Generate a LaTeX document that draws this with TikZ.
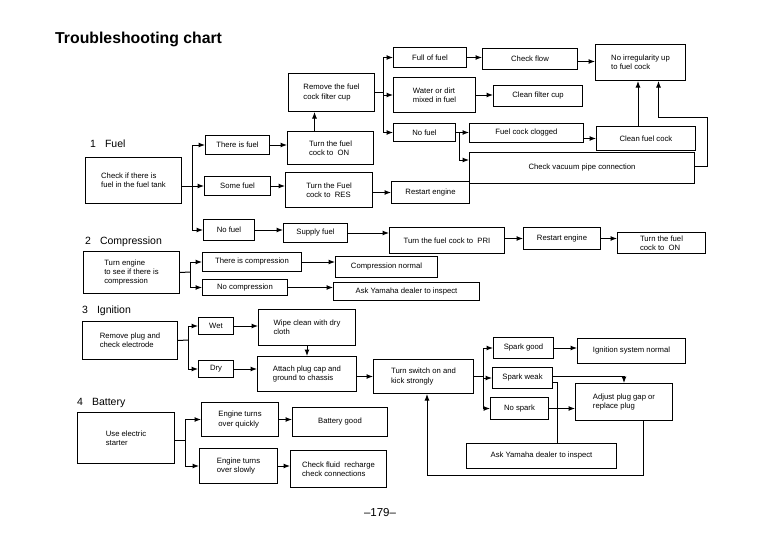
\documentclass[tikz,border=0pt]{standalone}
\usepackage{fontspec}
\setmainfont{Liberation Sans}
\usetikzlibrary{arrows.meta,calc}
\begin{document}
\begin{tikzpicture}[x=1pt,y=-1pt,
  box/.style={draw, line width=1pt, inner sep=1.5pt, align=left,
    font=\fontsize{7.7}{9.2}\selectfont, anchor=north west},
  arr/.style={line width=1pt, -{Latex[length=6.5pt,width=5pt]}},
  ln/.style={line width=1pt},
  sect/.style={font=\fontsize{10.5}{12}\selectfont, anchor=base west, inner sep=0pt},
  titlestyle/.style={font=\fontsize{15.8}{18}\selectfont\bfseries, anchor=base west, inner sep=0pt}]
\useasboundingbox (0,0) rectangle (770,554);

% ---------- labels ----------
\node[titlestyle] (title) at (55,43) {Troubleshooting chart};
\node[sect] (s1) at (90,147) {1\hspace{9pt}Fuel};
\node[sect] (s2) at (85,244) {2\hspace{9pt}Compression};
\node[sect] (s3) at (82,313) {3\hspace{9pt}Ignition};
\node[sect] (s4) at (77,405) {4\hspace{9pt}Battery};
\node[font=\fontsize{11.5}{13}\selectfont, anchor=base, inner sep=0pt] (page) at (380,516) {–179–};

% ---------- 1 Fuel ----------
\node[box, minimum width=96pt, minimum height=46pt] (check) at (85,157) {Check if there is\\fuel in the fuel tank};
\node[box, minimum width=64pt, minimum height=19pt] (thereis) at (205,135) {There is fuel};
\node[box, minimum width=66pt, minimum height=19pt] (somefuel) at (204,176) {Some fuel};
\node[box, minimum width=51pt, minimum height=21pt] (nofuelA) at (203,219) {No fuel};
\node[box, minimum width=86pt, minimum height=33pt] (turnon) at (287,131) {Turn the fuel\\cock to\ \ ON};
\node[box, minimum width=86pt, minimum height=38pt] (remove) at (288,73) {Remove the fuel\\cock filter cup};
\node[box, minimum width=87pt, minimum height=35pt] (turnres) at (285,172) {Turn the Fuel\\cock to\ \ RES};
\node[box, minimum width=78pt, minimum height=22pt] (restartA) at (391,181) {Restart engine};
\node[box, minimum width=73pt, minimum height=20pt] (fullfuel) at (393,47) {Full of fuel};
\node[box, minimum width=82pt, minimum height=35pt] (water) at (393,77) {Water or dirt\\mixed in fuel};
\node[box, minimum width=62pt, minimum height=18pt] (nofuelB) at (393,123) {No fuel};
\node[box, minimum width=95pt, minimum height=21pt] (checkflow) at (482,48) {Check flow};
\node[box, minimum width=90pt, minimum height=36pt] (noirreg) at (595,44) {No irregularity up\\to fuel cock};
\node[box, minimum width=89pt, minimum height=21pt] (cleancup) at (493,85) {Clean filter cup};
\node[box, minimum width=114pt, minimum height=19pt] (clogged) at (469,123) {Fuel cock clogged};
\node[box, minimum width=99pt, minimum height=24pt] (cleancock) at (596,126) {Clean fuel cock};
\node[box, minimum width=225pt, minimum height=31pt] (vacuum) at (469,152) {Check vacuum pipe connection};
\node[box, minimum width=64pt, minimum height=19pt] (supply) at (283,223) {Supply fuel};
\node[box, minimum width=115pt, minimum height=26pt] (pri) at (389,227) {Turn the fuel cock to\ \ PRI};
\node[box, minimum width=77pt, minimum height=22pt] (restartB) at (523,227) {Restart engine};
\node[box, minimum width=88pt, minimum height=21pt] (turnonB) at (617,232) {Turn the fuel\\cock to\ \ ON};

\coordinate (j1) at (192,185.5);
\draw[arr] (check.east |- somefuel.west) -- (somefuel.west);
\draw[arr] (j1) |- (thereis.west);
\draw[arr] (j1) |- (nofuelA.west);
\draw[arr] (thereis.east) -- (thereis.east -| turnon.west);
\draw[arr] ([xshift=-16pt]turnon.north) -- ([xshift=-16pt]turnon.north |- remove.south);
\draw[arr] (somefuel.east) -- (somefuel.east -| turnres.west);
\draw[arr] (turnres.east |- restartA.west) -- (restartA.west);

\coordinate (j2) at (383,92);
\draw[ln] (remove.east |- j2) -- (j2);
\draw[arr] (j2) |- (fullfuel.west);
\draw[arr] (j2) |- (water.west);
\draw[arr] (j2) |- (nofuelB.west);
\draw[arr] (fullfuel.east) -- (fullfuel.east -| checkflow.west);
\draw[arr] ([yshift=-2.5pt]checkflow.east) -- ([yshift=-2.5pt]checkflow.east -| noirreg.west);
\draw[arr] (water.east) -- (water.east -| cleancup.west);
\draw[arr] (nofuelB.east) -- (nofuelB.east -| clogged.west);
\coordinate (j3) at (459,132);
\draw[arr] (j3) |- ($(vacuum.north west)+(0,8)$);
\draw[arr] (clogged.east |- cleancock.west) -- (cleancock.west);
\draw[arr] ([xshift=-8pt]cleancock.north) -- ([xshift=-8pt]cleancock.north |- noirreg.south);
\coordinate (loopR) at (707,117);
\draw[arr] ([yshift=2pt]vacuum.east) -| (loopR) -| ([xshift=18pt]noirreg.south);

\draw[arr] (nofuelA.east) -- (nofuelA.east -| supply.west);
\draw[arr] (supply.east) -- (supply.east -| pri.west);
\draw[arr] (pri.east |- restartB.west) -- (restartB.west);
\draw[arr] (restartB.east) -- (restartB.east -| turnonB.west);

% ---------- 2 Compression ----------
\node[box, minimum width=96pt, minimum height=42pt] (comp) at (83,251) {Turn engine\\to see if there is\\compression};
\node[box, minimum width=99pt, minimum height=19pt] (thereiscomp) at (202,252) {There is compression};
\node[box, minimum width=85pt, minimum height=16pt] (nocomp) at (202,279) {No compression};
\node[box, minimum width=102pt, minimum height=21pt] (compnormal) at (335,256) {Compression normal};
\node[box, minimum width=146pt, minimum height=18pt] (askA) at (333,282) {Ask Yamaha dealer to inspect};

\coordinate (j4) at (190,272);
\draw[ln] (comp.east) -- (j4);
\draw[arr] (j4) |- (thereiscomp.west);
\draw[arr] (j4) |- (nocomp.west);
\draw[arr] (thereiscomp.east) -- (thereiscomp.east -| compnormal.west);
\draw[arr] (nocomp.east) -- (nocomp.east -| askA.west);

% ---------- 3 Ignition ----------
\node[box, minimum width=95pt, minimum height=38pt] (plug) at (82,321) {Remove plug and\\check electrode};
\node[box, minimum width=35pt, minimum height=17pt] (wet) at (198,317) {Wet};
\node[box, minimum width=35pt, minimum height=17pt] (dry) at (198,360) {Dry};
\node[box, minimum width=97pt, minimum height=36pt] (wipe) at (258,309) {Wipe clean with dry\\cloth};
\node[box, minimum width=99pt, minimum height=35pt] (attach) at (257,356) {Attach plug cap and\\ground to chassis};
\node[box, minimum width=100pt, minimum height=34pt] (kick) at (373,359) {Turn switch on and\\kick strongly};
\node[box, minimum width=60pt, minimum height=21pt] (sgood) at (493,337) {Spark good};
\node[box, minimum width=60pt, minimum height=21pt] (sweak) at (492,367) {Spark weak};
\node[box, minimum width=58pt, minimum height=22pt] (nospark) at (490,397) {No spark};
\node[box, minimum width=108pt, minimum height=25pt] (ignnormal) at (577,338) {Ignition system normal};
\node[box, minimum width=97pt, minimum height=37pt] (adjust) at (575,383) {Adjust plug gap or\\replace plug};
\node[box, minimum width=150pt, minimum height=25pt] (askB) at (466,443) {Ask Yamaha dealer to inspect};

\coordinate (j5) at (188,340);
\draw[ln] (plug.east) -- (j5);
\draw[arr] (j5) |- (wet.west);
\draw[arr] (j5) |- (dry.west);
\draw[arr] (wet.east) -- (wet.east -| wipe.west);
\draw[arr] (dry.east) -- (dry.east -| attach.west);
\draw[arr] (wipe.south) -- (wipe.south |- attach.north);
\draw[arr] (attach.east |- kick.west) -- (kick.west);
\coordinate (j6) at (483,376);
\draw[ln] (kick.east |- j6) -- (j6);
\draw[arr] (j6) |- (sgood.west);
\draw[arr] (j6) |- (sweak.west);
\draw[arr] (j6) |- (nospark.west);
\draw[arr] (sgood.east) -- (sgood.east -| ignnormal.west);
\draw[arr] ([yshift=1.5pt]sweak.east) -| (adjust.north);
\coordinate (j7) at (557,382);
\draw[ln] (sweak.east |- j7) -- (j7) -- (j7 |- askB.north);
\draw[arr] (nospark.east) -- (nospark.east -| adjust.west);
\coordinate (j8) at (643,475);
\coordinate (j9) at (427,475);
\draw[arr] (adjust.south -| j8) -- (j8) -- (j9) -- (j9 |- kick.south);

% ---------- 4 Battery ----------
\node[box, minimum width=97pt, minimum height=51pt] (starter) at (77,412) {Use electric\\starter};
\node[box, minimum width=77pt, minimum height=34pt] (quick) at (201,402) {Engine turns\\over quickly};
\node[box, minimum width=78pt, minimum height=35pt] (slow) at (199,448) {Engine turns\\over slowly};
\node[box, minimum width=95pt, minimum height=29pt] (batgood) at (292,407) {Battery good};
\node[box, minimum width=96pt, minimum height=37pt] (fluid) at (290,450) {Check fluid\ \ recharge\\check connections};

\coordinate (j10) at (185,440);
\draw[ln] (starter.east |- j10) -- (j10);
\draw[arr] (j10) |- (quick.west);
\draw[arr] (j10) |- (slow.west);
\draw[arr] (quick.east) -- (quick.east -| batgood.west);
\draw[arr] (slow.east) -- (slow.east -| fluid.west);
\end{tikzpicture}
\end{document}
